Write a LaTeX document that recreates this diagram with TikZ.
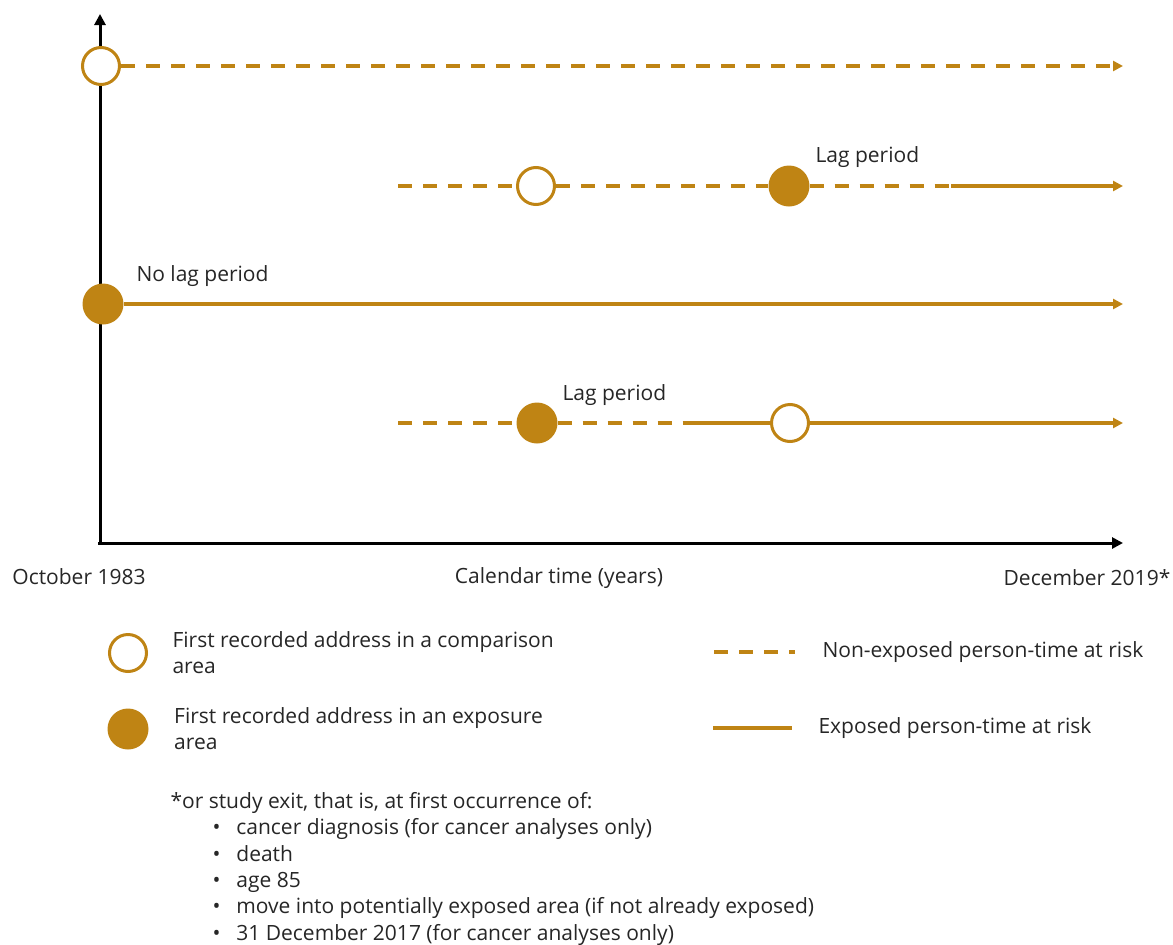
\documentclass[tikz,border=0pt]{standalone}
\usepackage{fontspec}
\setmainfont{Open Sans}
\usepackage{tikz}
\usetikzlibrary{positioning,arrows.meta}
\definecolor{ochre}{RGB}{191,132,20}
\newcommand{\itm}{\hspace*{42pt}\textbullet\hspace{16pt}}

\begin{document}
\begin{tikzpicture}[x=1pt, y=-1pt,
opennode/.style={circle, draw=ochre, fill=white, line width=3pt, minimum size=37pt, inner sep=0pt},
fillednode/.style={circle, fill=ochre, minimum size=41pt, inner sep=0pt},
dashline/.style={draw=ochre, line width=3.5pt, dash pattern=on 14pt off 11pt},
solidline/.style={draw=ochre, line width=3.5pt},
tip/.style={-{Triangle[length=10pt,width=10pt]}},
axis/.style={draw=black, line width=3pt, -{Triangle[length=11pt,width=11pt]}}]
\tikzstyle{every node}=[font=\fontsize{21}{26}\selectfont, text=black!85]
\useasboundingbox (0,0) rectangle (1173,945);

% axes
\coordinate (o) at (100,543);
\coordinate (ytop) at (100,14);
\coordinate (xend) at (1123,543);
\draw[axis] (100,545) -- (ytop);
\draw[axis] (98,543) -- (xend);

% timelines
\node[opennode] (1) at (101,66) {};
\coordinate (e1) at (1123,66);
\coordinate (s2) at (398,186);
\node[opennode] (2) at (536,186) {};
\node[fillednode] (3) at (789,186) {};
\coordinate (m2) at (951,186);
\coordinate (e2) at (1123,186);
\node[fillednode] (4) at (103,304) {};
\coordinate (e3) at (1123,304);
\coordinate (s4) at (398,423);
\node[fillednode] (5) at (537,423) {};
\coordinate (m4) at (696,423);
\node[opennode] (6) at (790,423) {};
\coordinate (e4) at (1123,423);

\draw[dashline, tip] (1) -- (e1);
\draw[dashline] (s2) -- (2);
\draw[dashline] (2) -- (3);
\draw[dashline] (3) -- (m2);
\draw[solidline, tip] (m2) -- (e2);
\draw[solidline, tip] (4) -- (e3);
\draw[dashline] (s4) -- (5);
\draw[dashline] (5) -- (m4);
\draw[solidline] (m4) -- (6);
\draw[solidline, tip] (6) -- (e4);

\node[anchor=west] (7) at (812,157) {Lag period};
\node[anchor=west] (8) at (133,276) {No lag period};
\node[anchor=west] (9) at (559,395) {Lag period};

% axis labels
\node (10) at (79,577) {October 1983};
\node (11) at (559,578) {Calendar time (years)};
\node (12) at (1087,578) {December 2019*};

% legend
\node[opennode] (13) at (128,653) {};
\node[align=left, right=21pt of 13] (14) {First recorded address in a comparison\\area};
\node[fillednode] (15) at (128,729) {};
\node[align=left, right=22pt of 15] (16) {First recorded address in an exposure\\area};
\coordinate (17) at (714,652);
\coordinate (18) at (795,652);
\draw[dashline] (17) -- (18);
\node[right=24pt of 18] (19) {Non-exposed person-time at risk};
\coordinate (20) at (713,728);
\coordinate (21) at (792,728);
\draw[solidline] (20) -- (21);
\node[right=23pt of 21] (22) {Exposed person-time at risk};

% footnote
\node[anchor=north west, align=left, font=\fontsize{21}{26.3}\selectfont] (23) at (167,789)
{*or study exit, that is, at first occurrence of:\\
\itm cancer diagnosis (for cancer analyses only)\\
\itm death\\
\itm age 85\\
\itm move into potentially exposed area (if not already exposed)\\
\itm 31 December 2017 (for cancer analyses only)};
\end{tikzpicture}
\end{document}
